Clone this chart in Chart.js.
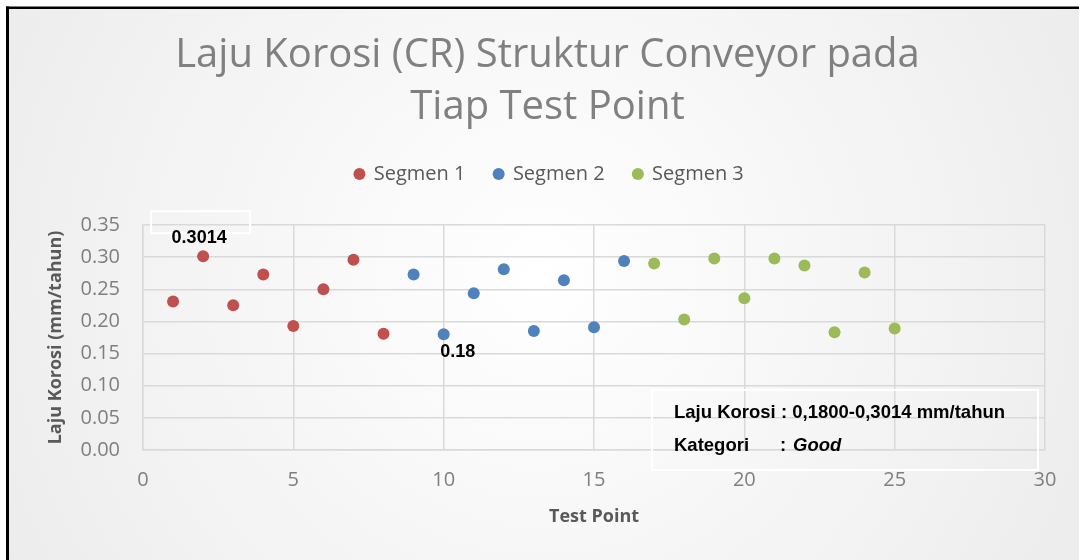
<!DOCTYPE html>
<html>
<head>
<meta charset="utf-8">
<script src="https://cdn.jsdelivr.net/npm/chart.js@4/dist/chart.umd.min.js"></script>
<style>
  html, body { margin: 0; padding: 0; background: #fff; }
  canvas { display: block; }
</style>
</head>
<body>
<canvas id="chart" width="1079" height="560"></canvas>
<script>
// test points and corrosion rate (mm/tahun) per segment
var seg1X = [1, 2, 3, 4, 5, 6, 7, 8];
var seg1Y = [0.231, 0.3014, 0.225, 0.273, 0.193, 0.250, 0.296, 0.181];
var seg2X = [9, 10, 11, 12, 13, 14, 15, 16];
var seg2Y = [0.273, 0.18, 0.244, 0.281, 0.185, 0.264, 0.191, 0.294];
var seg3X = [17, 18, 19, 20, 21, 22, 23, 24, 25];
var seg3Y = [0.290, 0.203, 0.298, 0.236, 0.298, 0.287, 0.183, 0.276, 0.189];
var seriesNames = ['Segmen 1', 'Segmen 2', 'Segmen 3'];
var seriesColors = ['#C0504D', '#4F81BD', '#9BBB59'];
var titleLines = ['Laju Korosi (CR) Struktur Conveyor pada', 'Tiap Test Point'];
var infoRange = 'Laju Korosi : 0,1800-0,3014 mm/tahun';
var infoCategory = 'Good';

function toPoints(xs, ys) {
    return xs.map(function (x, i) { return { x: x, y: ys[i] }; });
}

var allX = seg1X.concat(seg2X, seg3X);
var allY = seg1Y.concat(seg2Y, seg3Y);
var maxIdx = allY.indexOf(Math.max.apply(null, allY));
var minIdx = allY.indexOf(Math.min.apply(null, allY));

var bgPlugin = {
    id: 'bg',
    beforeDraw: function (chart) {
        var ctx = chart.ctx;
        var w = chart.width, h = chart.height;
        ctx.save();
        ctx.fillStyle = '#ffffff';
        ctx.fillRect(0, 0, w, h);
        var g = ctx.createRadialGradient(w / 2, h / 2, 0, w / 2, h / 2, 620);
        g.addColorStop(0, '#ffffff');
        g.addColorStop(1, '#ececec');
        ctx.fillStyle = g;
        ctx.fillRect(7, 7, w - 7, h - 7);
        ctx.fillStyle = '#000000';
        ctx.fillRect(6, 6.5, w - 6, 2.5);
        ctx.fillRect(6, 6.5, 3, h - 6.5);
        ctx.restore();
    }
};

var notePlugin = {
    id: 'notes',
    afterDatasetsDraw: function (chart) {
        var ctx = chart.ctx;
        var xs = chart.scales.x, ys = chart.scales.y;
        var ca = chart.chartArea;
        ctx.save();

        // max label with its white frame
        var px = xs.getPixelForValue(allX[maxIdx]);
        var py = ys.getPixelForValue(allY[maxIdx]);
        ctx.strokeStyle = '#ffffff';
        ctx.lineWidth = 2;
        ctx.strokeRect(px - 52, py - 45, 99, 22);
        ctx.fillStyle = '#000000';
        ctx.font = 'bold 18px "Liberation Sans", Arial, sans-serif';
        ctx.textAlign = 'center';
        ctx.textBaseline = 'middle';
        ctx.fillText(String(allY[maxIdx]), px - 4, py - 18);

        // min label
        px = xs.getPixelForValue(allX[minIdx]);
        py = ys.getPixelForValue(allY[minIdx]);
        ctx.fillText(String(allY[minIdx]), px + 14, py + 18);

        // info text box
        var bx = ca.left + 509, by = ca.top + 165;
        ctx.strokeRect(bx, by, 386, 80);
        ctx.textAlign = 'left';
        ctx.font = 'bold 18.5px "Liberation Sans", Arial, sans-serif';
        ctx.fillText(infoRange, bx + 22, by + 23);
        ctx.fillText('Kategori', bx + 22, by + 56);
        ctx.fillText(':', bx + 128, by + 56);
        ctx.font = 'italic bold 18.5px "Liberation Sans", Arial, sans-serif';
        ctx.fillText(infoCategory, bx + 141, by + 56);
        ctx.restore();
    }
};

var legendGap = {
    id: 'legendGap',
    beforeInit: function (chart) {
        var fit = chart.legend.fit;
        chart.legend.fit = function () {
            fit.bind(chart.legend)();
            this.height += 31;
        };
    },
    afterLayout: function (chart) {
        // title and legend sit a bit right of the canvas centre
        chart.legend.left += 22;
        chart.legend.right += 22;
        chart.titleBlock.left += 20;
        chart.titleBlock.right += 20;
    }
};

var gridColor = '#d9d9d9';

new Chart(document.getElementById('chart'), {
    type: 'scatter',
    data: {
        datasets: [
            { label: seriesNames[0], data: toPoints(seg1X, seg1Y), backgroundColor: seriesColors[0], borderColor: seriesColors[0] },
            { label: seriesNames[1], data: toPoints(seg2X, seg2Y), backgroundColor: seriesColors[1], borderColor: seriesColors[1] },
            { label: seriesNames[2], data: toPoints(seg3X, seg3Y), backgroundColor: seriesColors[2], borderColor: seriesColors[2] }
        ]
    },
    options: {
        responsive: false,
        animation: false,
        devicePixelRatio: 1,
        layout: { padding: { top: 10, left: 10, right: 34, bottom: 0 } },
        elements: { point: { radius: 6, borderWidth: 0, hoverRadius: 6 } },
        plugins: {
            title: {
                display: true,
                text: titleLines,
                color: '#808080',
                font: { family: '"Open Sans", sans-serif', size: 40, weight: 'normal', lineHeight: 1.3 },
                padding: { top: 20, bottom: 1 }
            },
            legend: {
                position: 'top',
                labels: {
                    usePointStyle: true,
                    pointStyle: 'circle',
                    boxWidth: 8.5,
                    boxHeight: 8.5,
                    padding: 29,
                    color: '#595959',
                    font: { family: '"Open Sans", sans-serif', size: 20 }
                }
            },
            tooltip: { enabled: false }
        },
        scales: {
            x: {
                type: 'linear',
                min: 0,
                max: 30,
                afterFit: function (s) { s.height = 110; },
                ticks: {
                    stepSize: 5,
                    padding: 18,
                    color: '#7f7f7f',
                    font: { family: '"Open Sans", sans-serif', size: 20 }
                },
                grid: { color: gridColor, lineWidth: 1.5, drawTicks: false },
                border: { color: gridColor, width: 1.5 },
                title: {
                    display: true,
                    text: 'Test Point',
                    color: '#595959',
                    font: { family: '"Open Sans", sans-serif', size: 18, weight: 'bold' },
                    padding: { top: 0, bottom: 32 }
                }
            },
            y: {
                min: 0,
                max: 0.35,
                afterFit: function (s) { s.width = 133; },
                ticks: {
                    stepSize: 0.05,
                    padding: 23,
                    color: '#7f7f7f',
                    font: { family: '"Open Sans", sans-serif', size: 20 },
                    callback: function (v) { return v.toFixed(2); }
                },
                grid: { color: gridColor, lineWidth: 1.5, drawTicks: false },
                border: { color: gridColor, width: 1.5 },
                title: {
                    display: true,
                    text: 'Laju Korosi (mm/tahun)',
                    color: '#595959',
                    font: { family: '"Open Sans", sans-serif', size: 18, weight: 'bold' },
                    padding: { top: 35, bottom: 0 }
                }
            }
        }
    },
    plugins: [bgPlugin, legendGap, notePlugin]
});
</script>
</body>
</html>
